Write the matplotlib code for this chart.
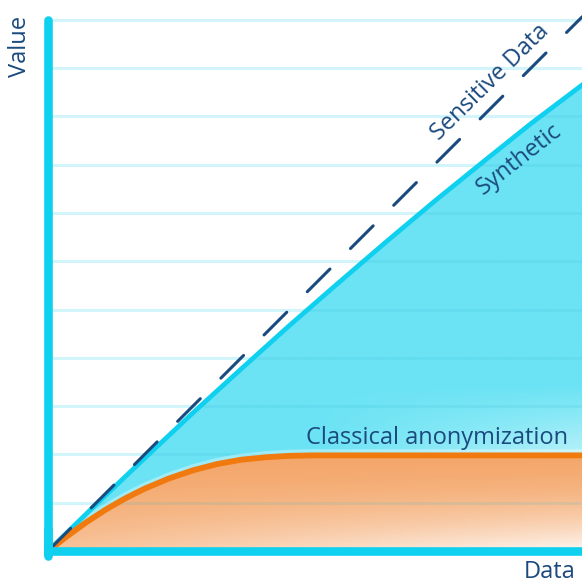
import matplotlib.pyplot as plt
import numpy as np
from matplotlib.colors import to_rgb
from matplotlib.patches import Polygon

# values in grid units (one unit = one horizontal rule)
sensitive_x = [0, 11.06]
sensitive_y = [0, 11.06]

synthetic_x = [0, 1, 2, 3, 4, 5, 6, 7, 8, 9, 10, 11.06]
synthetic_y = [0, 0.97, 1.92, 2.86, 3.77, 4.67, 5.54, 6.40, 7.24, 8.05, 8.85, 9.65]

classical_x = [0, 0.4, 0.8, 1.2, 1.6, 2.0, 2.5, 3.0, 3.5, 4.0, 4.5, 5.0, 5.5, 11.06]
classical_y = [0, 0.31, 0.60, 0.86, 1.09, 1.29, 1.50, 1.67, 1.80, 1.89, 1.94, 1.97, 1.98, 1.98]

grid_levels = [1, 2, 3, 4, 5, 6, 7, 8, 9, 10, 11]

CYAN = "#0fd0ef"
CYAN_FILL = "#6be3f4"
ORANGE = "#f07a0e"
ORANGE_FILL = "#f4a76b"
NAVY = "#1b4a7e"
GRID = "#d2f5fb"
FONT = ["Open Sans", "DejaVu Sans"]

W, H = 582, 581
UNIT = 48.3
LEFT, BOTTOM = 48, 551

fig = plt.figure(figsize=(W / 100, H / 100), dpi=100)
ax = fig.add_axes([0, 0, 1, 1])
ax.set_xlim(-LEFT / UNIT, (W - LEFT) / UNIT)
ax.set_ylim(-(H - BOTTOM) / UNIT, BOTTOM / UNIT)
ax.axis("off")

# horizontal rules
for g in grid_levels:
    ax.plot([0, 11.06], [g, g], color=GRID, lw=2.2, zorder=1, solid_capstyle="butt")


def gradient_fill(xs, ys, base, shade, z):
    verts = np.column_stack([list(xs) + [xs[-1], xs[0]], list(ys) + [0, 0]])
    poly = Polygon(verts, closed=True, facecolor="none", edgecolor="none")
    ax.add_patch(poly)
    gx, gy = np.meshgrid(np.linspace(0, 11.06, 300), np.linspace(0, 11.1, 300))
    t = shade(gx, gy)[..., None]
    img = np.array(to_rgb(base)) * (1 - t) + t
    im = ax.imshow(img, extent=[0, 11.06, 0, 11.1], origin="lower",
                   aspect="auto", zorder=z, interpolation="bilinear")
    im.set_clip_path(poly)
    return poly


def cyan_shade(x, y):
    return 0.5 * np.clip((3.4 - y) / 1.4, 0, 1) * np.clip((x - 5.5) / 5.5, 0, 1)


def orange_shade(x, y):
    v = np.clip(1 - y / 2.0, 0, 1) ** 1.8
    return np.clip(v * (0.3 + 0.6 * x / 11.06), 0, 0.85)


cyan_poly = gradient_fill(synthetic_x, synthetic_y, CYAN_FILL, cyan_shade, 2)
gradient_fill(classical_x, classical_y, ORANGE_FILL, orange_shade, 3)

# rules showing faintly through the fills
for g in grid_levels:
    ln, = ax.plot([0, 11.06], [g, g], color="#2fb8d0", lw=2.0, alpha=0.15, zorder=4,
                  solid_capstyle="butt")
    ln.set_clip_path(cyan_poly)

halo_y = [v + 0.07 for v in classical_y]
ax.plot(classical_x, halo_y, color="white", lw=4, alpha=0.35, zorder=5)
ax.plot(synthetic_x, synthetic_y, color=CYAN, lw=3.4, zorder=6)
ax.plot(classical_x, classical_y, color=ORANGE, lw=4.2, zorder=6)
ax.plot(sensitive_x, sensitive_y, color=NAVY, lw=2.2, zorder=7,
        dashes=(10.5, 9.5), dash_capstyle="round")

# axes
ax.plot([0, 0], [-0.1, 11.0], color=CYAN, lw=6.2, zorder=8, solid_capstyle="round")
ax.plot([-0.08, 11.06], [0, 0], color=CYAN, lw=6.2, zorder=8, solid_capstyle="butt")
ax.plot([0, 0], [-0.08, 0.5], color=CYAN, lw=6.2, zorder=8, solid_capstyle="butt")

fig.text(20 / W, 1 - 46 / H, "Value", rotation=90, ha="center", va="center",
         color=NAVY, fontsize=17, family=FONT)
fig.text(524 / W, 1 - 560 / H, "Data", ha="left", va="top",
         color=NAVY, fontsize=17, family=FONT)
fig.text(437 / W, 1 - 438 / H, "Classical anonymization", ha="center", va="center",
         color=NAVY, fontsize=17, family=FONT)
fig.text(490 / W, 1 - 82 / H, "Sensitive Data", rotation=44.5, ha="center",
         va="center", rotation_mode="anchor", color=NAVY, fontsize=17, family=FONT)
fig.text(519 / W, 1 - 159 / H, "Synthetic", rotation=38, ha="center",
         va="center", rotation_mode="anchor", color=NAVY, fontsize=17, family=FONT)

fig.savefig("out.png", dpi=100)
